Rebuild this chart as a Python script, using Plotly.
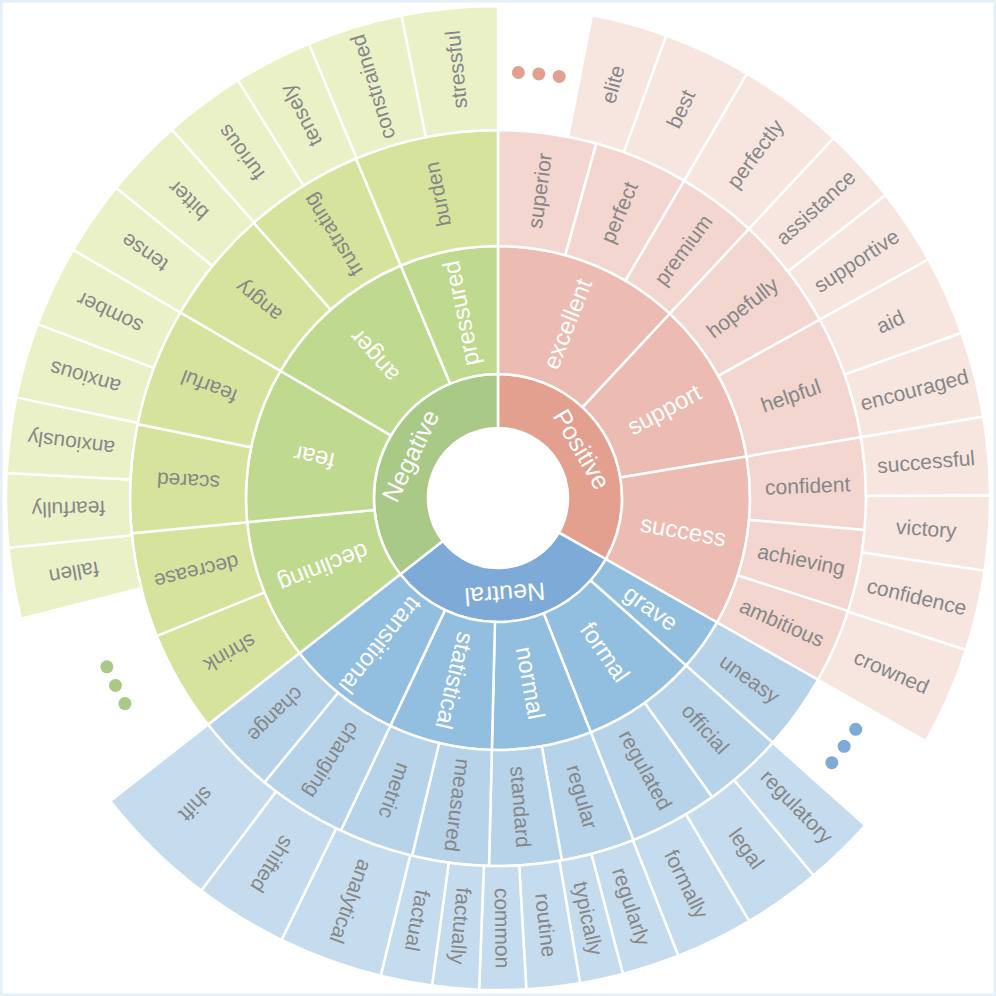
import math
import plotly.graph_objects as go

# Ring 1 (inner ring) - angular spans in degrees, clockwise from 12 o'clock
ring1_labels = ["Positive", "Neutral", "Negative"]
ring1_groups = ["pos", "neu", "neg"]
ring1_spans = [119.6, 112.4, 128.0]

# Ring 2
ring2_labels = ["excellent", "support", "success",
                "grave", "formal", "normal", "statistical", "transitional",
                "declining", "fear", "anger", "pressured"]
ring2_groups = ["pos"] * 3 + ["neu"] * 5 + ["neg"] * 4
ring2_spans = [43.0, 37.5, 39.1,
               12.1, 26.7, 23.0, 23.9, 26.7,
               32.5, 35.8, 37.0, 22.7]

# Ring 3
ring3_labels = ["superior", "perfect", "premium", "hopefully", "helpful", "confident", "achieving", "ambitious",
                "uneasy", "official", "regulated", "regular", "standard", "measured", "metric", "changing", "change",
                "shrink", "decrease", "scared", "fearful", "angry", "frustrating", "burden"]
ring3_groups = ["pos"] * 8 + ["neu"] * 9 + ["neg"] * 7
ring3_spans = [15.5, 14.9, 12.6, 18.0, 19.5, 14.5, 12.9, 11.7,
               12.1, 12.7, 14.0, 11.6, 11.4, 12.1, 11.8, 14.1, 12.6,
               16.0, 16.5, 17.1, 18.7, 18.1, 18.9, 22.7]

# Ring 4 (outer ring) - None marks the truncated "..." part
ring4_labels = [None, "elite", "best", "perfectly", "assistance", "supportive", "aid", "encouraged",
                "successful", "victory", "confidence", "crowned",
                None, "regulatory", "legal", "formally", "regularly", "typically", "routine", "common",
                "factually", "factual", "analytical", "shifted", "shift",
                None, "fallen", "fearfully", "anxiously", "anxious", "somber", "tense", "bitter",
                "furious", "tensely", "constrained", "stressful"]
ring4_groups = ["pos"] * 12 + ["neu"] * 13 + ["neg"] * 12
ring4_spans = [11.0, 9.0, 10.4, 12.6, 9.0, 9.0, 9.4, 10.1, 9.2, 8.8, 9.5, 11.6,
               12.1, 8.4, 9.2, 9.2, 6.8, 5.1, 6.3, 5.5, 5.5, 6.1, 12.3, 11.0, 14.9,
               23.8, 8.4, 8.7, 8.9, 8.9, 9.6, 8.8, 9.4, 9.6, 9.3, 11.3, 11.3]

# colours per group, one per ring (inner -> outer)
colors = {
    "pos": ["#e3a08f", "#ecbbb1", "#f2d6cf", "#f7e5e0"],
    "neu": ["#7eaad7", "#92bfdf", "#b6d3ea", "#c5dcef"],
    "neg": ["#a9c986", "#bfd98e", "#d5e39d", "#eaf1c7"],
}

radii = [70, 124, 252, 368, 492]
font_sizes = [25, 24, 21, 21]
W = 996
half = W / 2

rings = [
    (ring1_labels, ring1_groups, ring1_spans),
    (ring2_labels, ring2_groups, ring2_spans),
    (ring3_labels, ring3_groups, ring3_spans),
    (ring4_labels, ring4_groups, ring4_spans),
]


def norm(a):
    while a > 180:
        a -= 360
    while a <= -180:
        a += 360
    return a


fig = go.Figure()
annotations = []

for i, (labels, groups, spans) in enumerate(rings):
    inner, outer = radii[i], radii[i + 1]
    centers = []
    acc = 0
    for s in spans:
        centers.append(acc + s / 2)
        acc += s

    th, wd, col, base, rr = [], [], [], [], []
    for lab, g, s, c in zip(labels, groups, spans, centers):
        if lab is None:
            # three dots in the place of the cut segment
            rd = (inner + outer) / 2 - 4
            d = math.degrees(20.5 / rd)
            fig.add_trace(go.Scatterpolar(
                r=[rd, rd, rd], theta=[c - d, c, c + d], mode="markers",
                marker=dict(size=13, color=colors[g][0]),
                hoverinfo="skip", showlegend=False))
            continue
        th.append(c)
        wd.append(s)
        col.append(colors[g][i])
        base.append(inner)
        rr.append(outer - inner)

        # label position
        m = math.radians(90 - c)
        rm = (inner + outer) / 2
        x = (half + rm * math.cos(m)) / W
        y = (half + rm * math.sin(m)) / W
        if i == 0:
            ang = norm(c)            # tangential text on the inner ring
        else:
            ang = norm(c - 90)       # radial text elsewhere
        annotations.append(dict(
            x=x, y=y, xref="paper", yref="paper", text=lab, showarrow=False,
            textangle=ang, xanchor="center", yanchor="middle",
            font=dict(size=font_sizes[i],
                      color="white" if i < 2 else "#878787",
                      family="Liberation Sans, Arial, sans-serif")))

    fig.add_trace(go.Barpolar(
        r=rr, base=base, theta=th, width=wd,
        marker=dict(color=col, line=dict(color="white", width=2.5)),
        hoverinfo="skip", showlegend=False))

fig.update_layout(
    width=W, height=W,
    margin=dict(l=0, r=0, t=0, b=0),
    paper_bgcolor="white",
    polar=dict(
        domain=dict(x=[0, 1], y=[0, 1]),
        bgcolor="white",
        bargap=0,
        angularaxis=dict(direction="clockwise", rotation=90, visible=False, showgrid=False),
        radialaxis=dict(range=[0, half], visible=False, showgrid=False),
    ),
    annotations=annotations,
    shapes=[dict(type="rect", xref="paper", yref="paper", x0=0, y0=0, x1=1, y1=1,
                 line=dict(color="#e3f0f9", width=5))],
)

# page body margin off so the 996px figure fills the window
fig.write_html("out.html", config={"displayModeBar": False},
               post_script="document.body.style.margin='0px';")
